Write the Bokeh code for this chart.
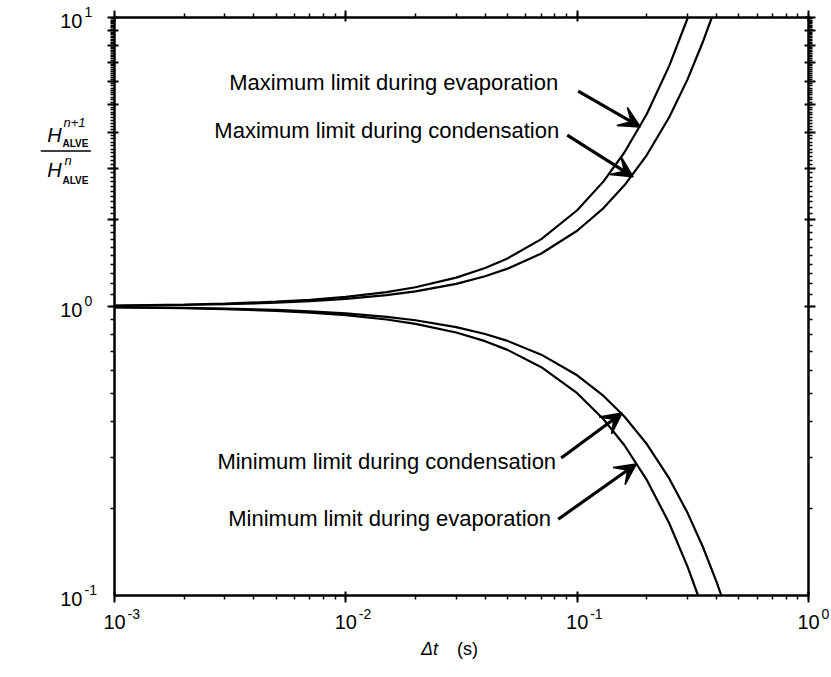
from bokeh.plotting import figure
from bokeh.models import (Label, LabelSet, Arrow, VeeHead, LogAxis, LogTicker,
                          ColumnDataSource, Range1d)
from bokeh.core.properties import value
from bokeh.embed import file_html
from bokeh.resources import INLINE

# ---- data ----
dt_max_evap = [0.001, 0.002, 0.003, 0.005, 0.007, 0.01, 0.015, 0.02, 0.03, 0.04, 0.05,
               0.07, 0.1, 0.13, 0.16, 0.2, 0.25, 0.301]
max_evap = [1.008, 1.016, 1.023, 1.039, 1.055, 1.080, 1.122, 1.166, 1.259, 1.359, 1.467,
            1.711, 2.153, 2.710, 3.411, 4.634, 6.80, 10.0]
dt_max_cond = [0.001, 0.002, 0.003, 0.005, 0.007, 0.01, 0.015, 0.02, 0.03, 0.04, 0.05,
               0.07, 0.1, 0.13, 0.16, 0.2, 0.25, 0.3, 0.35, 0.382]
max_cond = [1.006, 1.012, 1.018, 1.031, 1.043, 1.062, 1.095, 1.128, 1.198, 1.273, 1.352,
            1.525, 1.828, 2.191, 2.626, 3.342, 4.519, 6.109, 8.26, 10.0]
dt_min_evap = [0.001, 0.002, 0.003, 0.005, 0.007, 0.01, 0.015, 0.02, 0.03, 0.04, 0.05,
               0.07, 0.1, 0.13, 0.16, 0.2, 0.25, 0.3, 0.333]
min_evap = [0.9931, 0.9863, 0.9795, 0.9661, 0.9528, 0.9333, 0.9016, 0.8710, 0.8128, 0.7586, 0.7079,
            0.6166, 0.5012, 0.4074, 0.3311, 0.2512, 0.1778, 0.1259, 0.100]
dt_min_cond = [0.001, 0.002, 0.003, 0.005, 0.007, 0.01, 0.015, 0.02, 0.03, 0.04, 0.05,
               0.07, 0.1, 0.13, 0.16, 0.2, 0.25, 0.3, 0.35, 0.4, 0.42]
min_cond = [0.9945, 0.9891, 0.9837, 0.9730, 0.9624, 0.9467, 0.9211, 0.8962, 0.8483, 0.8030, 0.7603,
            0.6814, 0.5781, 0.4903, 0.4161, 0.3342, 0.2541, 0.1932, 0.1469, 0.1117, 0.100]

x_ticks = [1e-3, 1e-2, 1e-1, 1e0]
x_exps = ["-3", "-2", "-1", "0"]
y_ticks = [0.1, 1.0, 10.0]
y_exps = ["-1", "0", "1"]

curve_labels = ["Maximum limit during evaporation", "Maximum limit during condensation",
                "Minimum limit during condensation", "Minimum limit during evaporation"]
label_x = [0.0828, 0.0836, 0.0811, 0.0771]
label_y = [5.97, 4.08, 0.290, 0.185]
arrow_x0 = [0.101, 0.0906, 0.0853, 0.0828]
arrow_y0 = [5.56, 3.92, 0.299, 0.1836]
arrow_x1 = [0.1875, 0.1746, 0.1566, 0.180]
arrow_y1 = [4.18, 2.81, 0.428, 0.285]

FONT = "Liberation Sans"

# ---- layout: the frame fills the canvas; the axes box sits inside it ----
W, H = 831, 677
LEFT, RIGHT, TOP, BOTTOM = 114, 23, 17, 82
XMIN, XMAX, YMIN, YMAX = 1e-3, 1.0, 0.1, 10.0
dec_x = (W - LEFT - RIGHT) / 3.0
dec_y = (H - TOP - BOTTOM) / 2.0
x_range = Range1d(10 ** (-3 - LEFT / dec_x), 10 ** (0 + RIGHT / dec_x))
y_range = Range1d(10 ** (-1 - BOTTOM / dec_y), 10 ** (1 + TOP / dec_y))

p = figure(width=W, height=H, x_axis_type="log", y_axis_type="log",
           x_range=x_range, y_range=y_range,
           x_axis_location=None, y_axis_location=None,
           output_backend="svg", toolbar_location=None,
           min_border=0, min_border_left=0, min_border_right=0,
           min_border_top=0, min_border_bottom=0)
p.outline_line_color = None
p.grid.visible = False
p.background_fill_color = "white"
p.border_fill_color = "white"

axes = [
    (LogAxis(fixed_location=YMIN, bounds=(XMIN, XMAX)), "below"),
    (LogAxis(fixed_location=YMAX, bounds=(XMIN, XMAX)), "above"),
    (LogAxis(fixed_location=XMIN, bounds=(YMIN, YMAX)), "left"),
    (LogAxis(fixed_location=XMAX, bounds=(YMIN, YMAX)), "right"),
]
for ax, side in axes:
    ax.ticker = LogTicker(num_minor_ticks=10)
    ax.axis_line_width = 2.5
    ax.axis_line_color = "black"
    ax.major_tick_line_width = 2
    ax.minor_tick_line_width = 1.5
    ax.major_tick_out = 7
    ax.major_tick_in = 4
    ax.minor_tick_out = 4
    ax.minor_tick_in = 0
    ax.major_label_text_font_size = "2px"
    ax.major_label_text_alpha = 0
    ax.major_label_standoff = 0
    p.add_layout(ax, side)

# curves
for xs_, ys_ in ((dt_max_evap, max_evap), (dt_max_cond, max_cond),
                 (dt_min_evap, min_evap), (dt_min_cond, min_cond)):
    p.line(xs_, ys_, line_color="black", line_width=2.2)

# curve annotations
lab_src = ColumnDataSource(dict(x=label_x, y=label_y, text=curve_labels))
p.add_layout(LabelSet(x="x", y="y", text="text", source=lab_src, text_align="right",
                      text_baseline="middle", text_font=value(FONT), text_font_size="22px",
                      text_color="black"))
arr_src = ColumnDataSource(dict(x0=arrow_x0, y0=arrow_y0, x1=arrow_x1, y1=arrow_y1))
p.add_layout(Arrow(x_start="x0", y_start="y0", x_end="x1", y_end="y1", source=arr_src,
                   line_width=3.2, line_color="black",
                   end=VeeHead(size=21, fill_color="black", line_color="black",
                               line_width=1.5)))

# tick labels
xs = ColumnDataSource(dict(x=x_ticks, y=[YMIN] * len(x_ticks), base=["10"] * len(x_ticks), exp=x_exps))
p.add_layout(LabelSet(x="x", y="y", text="base", source=xs, text_align="center",
                      text_baseline="middle", y_offset=-26, text_font=value(FONT),
                      text_font_size="20px", text_color="black"))
p.add_layout(LabelSet(x="x", y="y", text="exp", source=xs, text_align="left",
                      text_baseline="middle", x_offset=13, y_offset=-18, text_font=value(FONT),
                      text_font_size="14px", text_color="black"))
ys_src = ColumnDataSource(dict(x=[XMIN] * len(y_ticks), y=y_ticks, base=["10"] * len(y_ticks), exp=y_exps))
p.add_layout(LabelSet(x="x", y="y", text="base", source=ys_src, text_align="right",
                      text_baseline="middle", x_offset=-32, y_offset=-3, text_font=value(FONT),
                      text_font_size="20px", text_color="black"))
p.add_layout(LabelSet(x="x", y="y", text="exp", source=ys_src, text_align="left",
                      text_baseline="middle", x_offset=-30, y_offset=6, text_font=value(FONT),
                      text_font_size="14px", text_color="black"))

# x axis title
p.add_layout(Label(x=XMIN, y=YMIN, text="Δt", text_font=FONT, text_font_style="italic",
                   text_font_size="18px", text_color="black", text_align="center",
                   text_baseline="middle", x_offset=315, y_offset=-53))
p.add_layout(Label(x=XMIN, y=YMIN, text="(s)", text_font=FONT, text_font_size="18px",
                   text_color="black", text_align="center", text_baseline="middle",
                   x_offset=353, y_offset=-53))

# y axis title: H_ALVE^(n+1) / H_ALVE^n
def lab(text, dx, dy, size, style="normal", align="center"):
    p.add_layout(Label(x=XMIN, y=YMAX, text=text, text_font=FONT, text_font_style=style,
                       text_font_size=size, text_color="black", text_align=align,
                       text_baseline="middle", x_offset=dx, y_offset=dy))

lab("H", -60, -117, "20px", "italic")
lab("n+1", -51, -105, "13px", "italic", "left")
lab("ALVE", -52, -126, "10px", "bold", "left")
lab("H", -60, -152, "20px", "italic")
lab("n", -50, -143, "13px", "italic", "left")
lab("ALVE", -52, -163, "10px", "bold", "left")
p.add_layout(Arrow(x_start=4.8e-4, y_start=3.45, x_end=7.9e-4, y_end=3.45, end=None,
                   line_width=1.5, line_color="black"))

open("out.html", "w").write(file_html(p, INLINE))
